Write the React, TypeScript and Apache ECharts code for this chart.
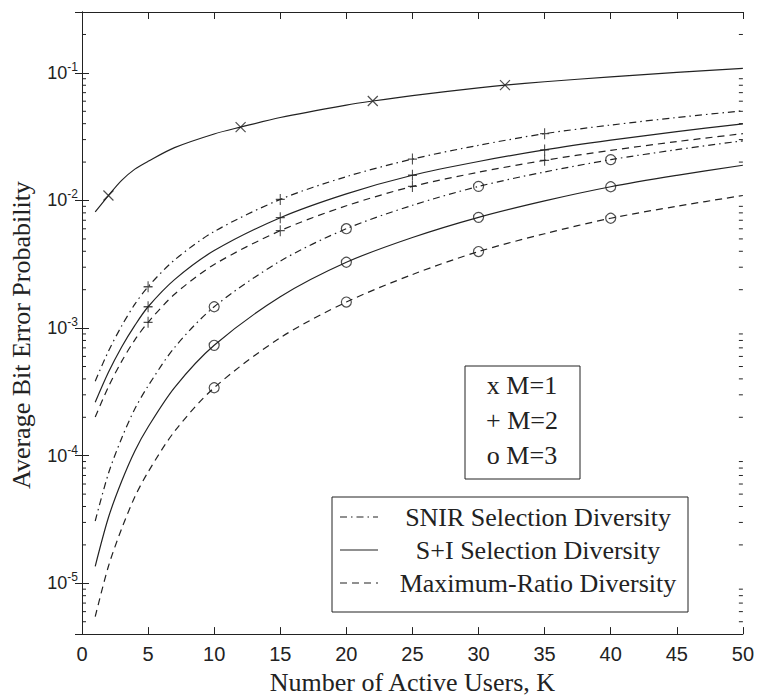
import React, { useEffect, useRef } from "react";
import * as echarts from "echarts";

// ---------- data ----------
const kM1 = [1, 2, 3, 4, 5, 7, 10, 12, 15, 20, 22, 25, 30, 32, 35, 40, 45, 50];
const kAll = [1, 2, 3, 4, 5, 7, 10, 15, 20, 25, 30, 35, 40, 45, 50];

// M = 1 (all diversity schemes coincide)
const m1 = [8.15e-3, 0.01094, 0.01438, 0.01761, 0.02028, 0.02596, 0.03322, 0.03758, 0.04468, 0.05588, 0.06018, 0.06644, 0.07635, 0.08021, 0.08518, 0.0932, 0.1009, 0.1083];

// M = 2
const m2Snir = [3.84e-4, 6.59e-4, 1.04e-3, 1.54e-3, 2.11e-3, 3.42e-3, 5.71e-3, 0.0102, 0.01538, 0.02112, 0.02707, 0.0334, 0.03901, 0.04468, 0.05044];
const m2Si = [2.62e-4, 4.5e-4, 7.11e-4, 1.05e-3, 1.47e-3, 2.4e-3, 4.05e-3, 7.33e-3, 0.01127, 0.01576, 0.0202, 0.02492, 0.02968, 0.03465, 0.03984];
const m2Mrc = [2.01e-4, 3.47e-4, 5.49e-4, 8.09e-4, 1.11e-3, 1.84e-3, 3.15e-3, 5.8e-3, 9.09e-3, 0.01289, 0.01665, 0.02064, 0.0247, 0.02895, 0.0334];

// M = 3
const m3Snir = [3.08e-5, 7.26e-5, 1.37e-4, 2.33e-4, 3.52e-4, 7.05e-4, 1.47e-3, 3.35e-3, 6.01e-3, 9.17e-3, 0.01289, 0.01674, 0.02089, 0.02501, 0.02937];
const m3Si = [1.36e-5, 3.28e-5, 6.3e-5, 1.09e-4, 1.68e-4, 3.42e-4, 7.33e-4, 1.76e-3, 3.28e-3, 5.13e-3, 7.38e-3, 9.93e-3, 0.01282, 0.01573, 0.01889];
const m3Mrc = [5.48e-6, 1.36e-5, 2.68e-5, 4.76e-5, 7.45e-5, 1.55e-4, 3.41e-4, 8.4e-4, 1.6e-3, 2.63e-3, 3.98e-3, 5.49e-3, 7.26e-3, 9.01e-3, 0.01094];

// marker positions (K values)
const markM1 = [2, 12, 22, 32];
const markM2 = [5, 15, 25, 35];
const markM3 = [10, 20, 30, 40];

// axis ticks
const xTicks = [0, 5, 10, 15, 20, 25, 30, 35, 40, 45, 50];
const yMin = 4e-6;
const yMax = 0.3;
const minorMantissas = [2, 3, 4, 5, 6, 7, 8, 9];
const minorDecades = [-6, -5, -4, -3, -2, -1];

const legendM = ["x M=1", "+ M=2", "o M=3"];
const legendLines = ["SNIR Selection Diversity", "S+I Selection Diversity", "Maximum-Ratio Diversity"];

// ---------- styles ----------
const INK = "#222";
const SERIF = '"Liberation Serif", "Times New Roman", serif';
const SANS = '"Liberation Sans", Arial, sans-serif';
const DASH = [7, 5];
const DASHDOT = [7, 4, 1.5, 4];

function pairs(ks: number[], vs: number[]) {
  return ks.map((k, i) => [k, vs[i]]);
}
function pick(ks: number[], vs: number[], marks: number[]) {
  return marks.map((m) => [m, vs[ks.indexOf(m)]]);
}

export default function App() {
  const ref = useRef<HTMLDivElement>(null);
  useEffect(() => {
    if (!ref.current) return;
    const chart = echarts.init(ref.current, null, { renderer: "svg" });

    const lineSeries = (name: string, ks: number[], vs: number[], type: any) => ({
      name,
      type: "line",
      data: pairs(ks, vs),
      showSymbol: false,
      smooth: 0.3,
      silent: true,
      lineStyle: { color: INK, width: 1.2, type },
      z: 3,
    });
    const markSeries = (name: string, data: number[][], symbol: string, size: any) => ({
      name,
      type: "scatter",
      data,
      symbol,
      symbolSize: size,
      silent: true,
      itemStyle: { color: "transparent", borderColor: INK, borderWidth: 1.2 },
      z: 4,
    });

    const minorTicks: number[][] = [];
    minorDecades.forEach((d) =>
      minorMantissas.forEach((m) => {
        const v = m * Math.pow(10, d);
        if (v > yMin * 1.001 && v < yMax * 0.999) minorTicks.push([0, v]);
      })
    );

    const X_PATH = "path://M0,0L10,10M10,0L0,10";
    const PLUS_PATH = "path://M5,0L5,10M0,5L10,5";

    const axisLine = { show: true, lineStyle: { color: INK, width: 1 } };
    const axisTick = { show: true, inside: true, length: 7, lineStyle: { color: INK, width: 1 } };

    const yFormatter = (v: number) => {
      const e = Math.log10(v);
      if (Math.abs(e - Math.round(e)) > 1e-6) return "";
      return `{b|10}{s|${Math.round(e)}}`;
    };

    const option: any = {
      animation: false,
      backgroundColor: "#fff",
      grid: { left: 78, right: 11, top: 12, bottom: 52, containLabel: false },
      xAxis: [
        {
          type: "value",
          min: xTicks[0],
          max: xTicks[xTicks.length - 1],
          interval: xTicks[1] - xTicks[0],
          position: "bottom",
          axisLine,
          axisTick,
          splitLine: { show: false },
          axisLabel: { fontFamily: SANS, fontSize: 20, color: INK, margin: 10 },
          name: "Number of Active Users, K",
          nameLocation: "middle",
          nameGap: 28,
          nameTextStyle: { fontFamily: SERIF, fontSize: 26, color: INK },
        },
        {
          type: "value",
          min: xTicks[0],
          max: xTicks[xTicks.length - 1],
          interval: xTicks[1] - xTicks[0],
          position: "top",
          axisLine,
          axisTick,
          splitLine: { show: false },
          axisLabel: { show: false },
        },
      ],
      yAxis: [
        {
          type: "log",
          logBase: 10,
          min: yMin,
          max: yMax,
          position: "left",
          axisLine,
          axisTick,
          splitLine: { show: false },
          axisLabel: {
            formatter: yFormatter,
            showMinLabel: false,
            showMaxLabel: false,
            margin: 4,
            color: INK,
            rich: {
              b: { fontFamily: SANS, fontSize: 18, color: INK },
              s: { fontFamily: SANS, fontSize: 12, color: INK, padding: [0, 0, 12, 0] },
            },
          },
          name: "Average Bit Error Probability",
          nameLocation: "middle",
          nameRotate: 90,
          nameGap: 48,
          nameTextStyle: { fontFamily: SERIF, fontSize: 26, color: INK, padding: [0, 24, 0, 0] },
        },
        {
          type: "log",
          logBase: 10,
          min: yMin,
          max: yMax,
          position: "right",
          axisLine,
          axisTick,
          splitLine: { show: false },
          axisLabel: { show: false },
        },
      ],
      series: [
        lineSeries("M1", kM1, m1, "solid"),
        lineSeries("M2 SNIR", kAll, m2Snir, DASHDOT),
        lineSeries("M2 S+I", kAll, m2Si, "solid"),
        lineSeries("M2 MRC", kAll, m2Mrc, DASH),
        lineSeries("M3 SNIR", kAll, m3Snir, DASHDOT),
        lineSeries("M3 S+I", kAll, m3Si, "solid"),
        lineSeries("M3 MRC", kAll, m3Mrc, DASH),
        markSeries("M=1", pick(kM1, m1, markM1), X_PATH, 10),
        markSeries("M=2 SNIR", pick(kAll, m2Snir, markM2), PLUS_PATH, [9, 11]),
        markSeries("M=2 S+I", pick(kAll, m2Si, markM2), PLUS_PATH, [9, 11]),
        markSeries("M=2 MRC", pick(kAll, m2Mrc, markM2), PLUS_PATH, [9, 11]),
        markSeries("M=3 SNIR", pick(kAll, m3Snir, markM3), "circle", 10),
        markSeries("M=3 S+I", pick(kAll, m3Si, markM3), "circle", 10),
        markSeries("M=3 MRC", pick(kAll, m3Mrc, markM3), "circle", 10),
        {
          name: "minor ticks",
          type: "custom",
          data: minorTicks,
          silent: true,
          clip: false,
          renderItem: (params: any, api: any) => {
            const v = api.value(1);
            const y = api.coord([0, v])[1];
            const cs = params.coordSys;
            return {
              type: "group",
              children: [
                { type: "line", shape: { x1: cs.x, y1: y, x2: cs.x + 4, y2: y }, style: { stroke: INK, lineWidth: 1 } },
                { type: "line", shape: { x1: cs.x + cs.width - 4, y1: y, x2: cs.x + cs.width, y2: y }, style: { stroke: INK, lineWidth: 1 } },
              ],
            };
          },
        },
      ],
      graphic: [
        { type: "rect", shape: { x: 465, y: 366, width: 115, height: 113 }, style: { fill: "#fff", stroke: INK, lineWidth: 1 }, z: 10 },
        ...legendM.map((t, i) => ({
          type: "text",
          x: 522,
          y: 385 + i * 35,
          style: { text: t, font: `26px ${SERIF}`, fill: INK, align: "center", verticalAlign: "middle" },
          z: 11,
        })),
        { type: "rect", shape: { x: 332, y: 497, width: 356, height: 115 }, style: { fill: "#fff", stroke: INK, lineWidth: 1 }, z: 10 },
        ...legendLines.map((t, i) => ({
          type: "text",
          x: 538,
          y: 517 + i * 33,
          style: { text: t, font: `26px ${SERIF}`, fill: INK, align: "center", verticalAlign: "middle" },
          z: 11,
        })),
        ...[DASHDOT, null, DASH].map((d, i) => ({
          type: "line",
          shape: { x1: 340, y1: 517 + i * 33, x2: 378, y2: 517 + i * 33 },
          style: { stroke: INK, lineWidth: 1.2, lineDash: d },
          z: 11,
        })),
      ],
    };
    chart.setOption(option);
    return () => chart.dispose();
  }, []);

  return <div ref={ref} style={{ position: "absolute", left: 0, top: 0, width: 757, height: 700, background: "#fff" }} />;
}
